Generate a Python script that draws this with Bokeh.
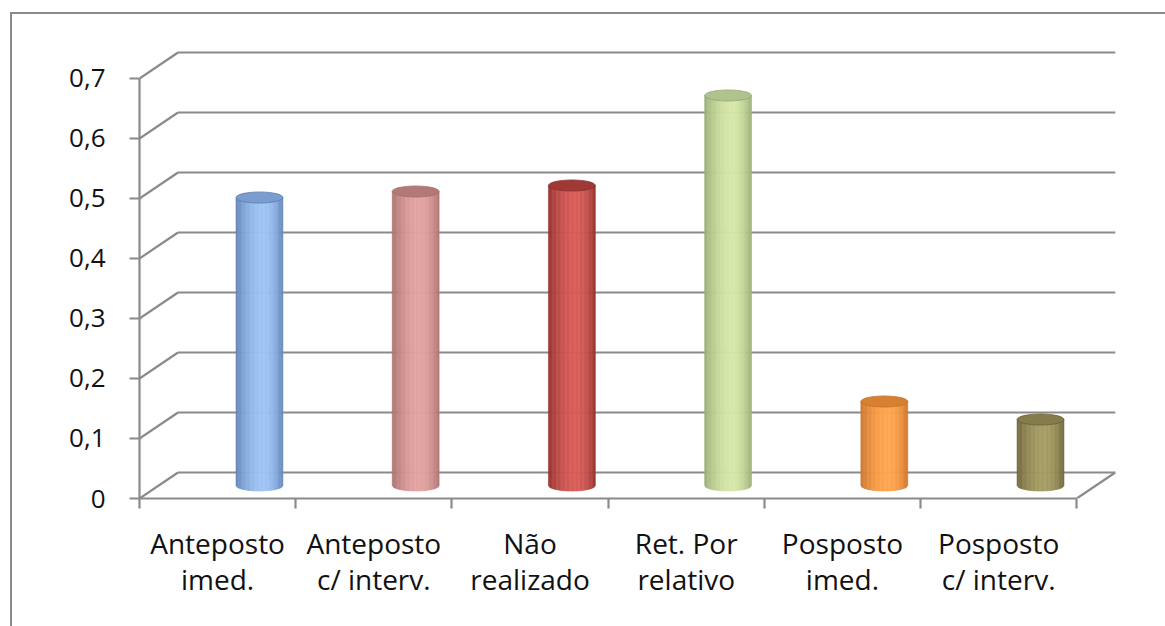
import numpy as np
from bokeh.plotting import figure
from bokeh.models import (FixedTicker, CustomJSTickFormatter, LinearAxis, InlineStyleSheet)
from bokeh.embed import file_html
from bokeh.resources import INLINE

# ---- data -------------------------------------------------------------
categories = ["Anteposto\nimed.", "Anteposto\nc/ interv.", "Não\nrealizado",
              "Ret. Por\nrelativo", "Posposto\nimed.", "Posposto\nc/ interv."]
values = [0.48, 0.49, 0.50, 0.65, 0.14, 0.11]
y_ticks = [0.0, 0.1, 0.2, 0.3, 0.4, 0.5, 0.6, 0.7]
y_tick_labels = ["0", "0,1", "0,2", "0,3", "0,4", "0,5", "0,6", "0,7"]

# ---- styling ----------------------------------------------------------
light = ["#9ec4f5", "#e3a3a1", "#d85c59", "#d6e7a8", "#ffa54e", "#a59c64"]
dark = ["#5a7cae", "#a36c6a", "#8c2d2a", "#93a672", "#c56f29", "#686036"]
tops = ["#7a9dcf", "#b27977", "#9e3936", "#b0c38e", "#d68030", "#847c4b"]
grid_col = "#8a8a8a"
font = "Open Sans"

n = len(categories)
DX, DY = 0.2465, 0.0433      # depth offset of the back wall (data units)
BAR_SHIFT = 0.268            # bar centre offset from category centre
BAR_HALF = 0.150             # half width of a cylinder (x units)
ELL_B = 0.0092               # semi-minor axis of the end ellipses (y units)
BASE = DY * 0.5              # cylinders stand in the middle of the floor

p = figure(width=1165, height=626, output_backend="svg", toolbar_location=None,
           x_range=(0, 6.312), y_range=(0, 0.7633),
           min_border_left=139, min_border_right=40, min_border_top=40,
           min_border_bottom=128, x_axis_type=None, y_axis_type=None)
p.grid.visible = False
p.outline_line_color = None
p.background_fill_color = "white"
p.border_fill_color = "white"

# chart area border (left and top edges of the chart box)
p.stylesheets = [InlineStyleSheet(css="""
:host { position: relative; }
:host::after {
  content: ""; position: absolute; left: 10px; top: 12px; right: 0; bottom: 0;
  border-left: 2.5px solid #8a8a8a; border-top: 2.5px solid #8a8a8a;
  pointer-events: none;
}
""")]

# ---- walls: back gridlines, side diagonals, floor edge -----------------
xs, ys = [], []
for v in y_ticks:
    xs.append([DX, n + DX]); ys.append([v + DY, v + DY])
    xs.append([0, DX]); ys.append([v, v + DY])
xs.append([n, n + DX]); ys.append([0, DY])
p.multi_line(xs, ys, line_color=grid_col, line_width=2.2)

# ---- shaded cylinders --------------------------------------------------
def hex2rgb(h):
    h = h.lstrip("#")
    return np.array([int(h[i:i + 2], 16) for i in (0, 2, 4)], float)

def rgb2hex(c):
    c = np.clip(np.round(c), 0, 255).astype(int)
    return "#%02x%02x%02x" % tuple(c)

N = 36
px, py, pc = [], [], []
for i, v in enumerate(values):
    cx = i + 0.5 + BAR_SHIFT
    top = BASE + v
    lo, hi = hex2rgb(dark[i]), hex2rgb(light[i])
    edges = np.linspace(-1, 1, N + 1)
    for k in range(N):
        t0, t1 = edges[k], edges[k + 1]
        tm = 0.5 * (t0 + t1)
        # highlight slightly right of centre, darker towards both edges
        f = np.cos(np.clip((tm - 0.2) / (1.25 if tm < 0.2 else 0.85), -1, 1) * np.pi / 2) ** 0.8
        col = rgb2hex(lo + (hi - lo) * f)
        x0, x1 = cx + t0 * BAR_HALF, cx + t1 * BAR_HALF
        yb0 = BASE - ELL_B * np.sqrt(max(0.0, 1 - t0 ** 2))
        yb1 = BASE - ELL_B * np.sqrt(max(0.0, 1 - t1 ** 2))
        px.append([x0, x1, x1, x0]); py.append([top, top, yb1, yb0]); pc.append(col)
p.patches(px, py, fill_color=pc, line_color=pc, line_width=0.6)

cxs = [i + 0.5 + BAR_SHIFT for i in range(n)]
p.ellipse(x=cxs, y=[BASE + v for v in values], width=2 * BAR_HALF, height=2 * ELL_B,
          fill_color=tops, line_color=dark, line_width=0.8)

# ---- axes --------------------------------------------------------------
yax = LinearAxis(ticker=FixedTicker(ticks=y_ticks, minor_ticks=[]), bounds=(0, 0.7))
yax.formatter = CustomJSTickFormatter(args=dict(yvals=y_ticks, ylabels=y_tick_labels), code="""
    let best = 0;
    for (let i = 0; i < yvals.length; i++)
        if (Math.abs(yvals[i] - tick) < Math.abs(yvals[best] - tick)) best = i;
    return ylabels[best];
""")
yax.axis_line_color = grid_col
yax.axis_line_width = 2.2
yax.major_tick_line_color = grid_col
yax.major_tick_line_width = 2.2
yax.major_tick_out = 10
yax.major_tick_in = 0
yax.major_label_standoff = 24
yax.major_label_text_font = font
yax.major_label_text_font_size = "26px"
yax.major_label_text_color = "#111111"
p.add_layout(yax, "left")

xax = LinearAxis(ticker=FixedTicker(ticks=[i + 0.5 for i in range(n)],
                                    minor_ticks=list(range(n + 1))), bounds=(0, n))
xax.formatter = CustomJSTickFormatter(args=dict(cats=categories),
                                      code="return cats[Math.round(tick - 0.5)];")
xax.axis_line_color = grid_col
xax.axis_line_width = 2.2
xax.major_tick_line_color = None
xax.minor_tick_line_color = grid_col
xax.minor_tick_line_width = 2.2
xax.minor_tick_out = 10
xax.minor_tick_in = 0
xax.major_tick_out = 10
xax.major_label_standoff = 15
xax.major_label_text_font = font
xax.major_label_text_font_size = "28px"
xax.major_label_text_color = "#111111"
xax.major_label_text_line_height = 0.97
p.add_layout(xax, "below")

open("out.html", "w").write(file_html(p, INLINE))
